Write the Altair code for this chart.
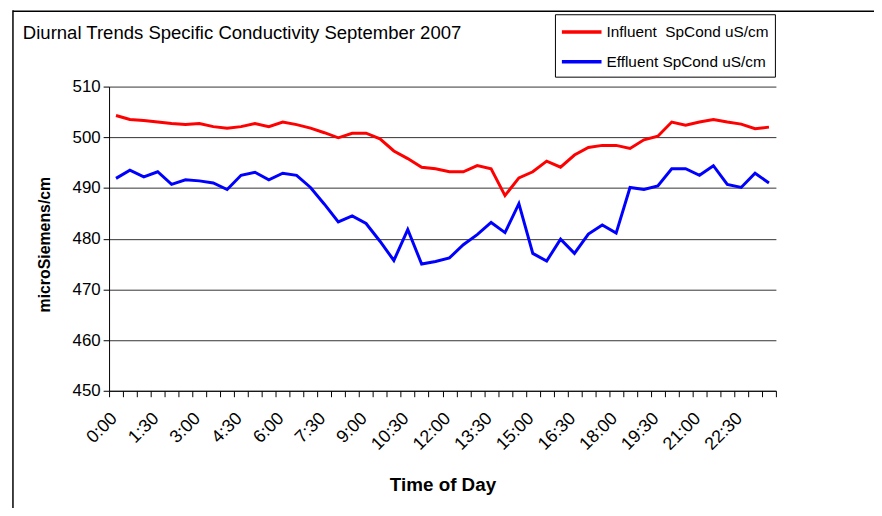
import altair as alt
import pandas as pd

times = ["0:00", "0:30", "1:00", "1:30", "2:00", "2:30", "3:00", "3:30", "4:00", "4:30",
         "5:00", "5:30", "6:00", "6:30", "7:00", "7:30", "8:00", "8:30", "9:00", "9:30",
         "10:00", "10:30", "11:00", "11:30", "12:00", "12:30", "13:00", "13:30", "14:00", "14:30",
         "15:00", "15:30", "16:00", "16:30", "17:00", "17:30", "18:00", "18:30", "19:00", "19:30",
         "20:00", "20:30", "21:00", "21:30", "22:00", "22:30", "23:00", "23:30"]

influent = [504.3, 503.5, 503.3, 503.0, 502.7, 502.5, 502.7, 502.1, 501.8, 502.1,
            502.7, 502.1, 503.0, 502.5, 501.8, 500.9, 499.9, 500.8, 500.8, 499.7,
            497.3, 495.8, 494.1, 493.8, 493.2, 493.2, 494.4, 493.8, 488.5, 492.0,
            493.2, 495.3, 494.1, 496.5, 498.0, 498.4, 498.4, 497.8, 499.5, 500.2,
            503.0, 502.4, 503.0, 503.5, 503.0, 502.6, 501.7, 502.0]

effluent = [491.9, 493.5, 492.2, 493.2, 490.7, 491.6, 491.4, 491.0, 489.7, 492.5,
            493.1, 491.6, 492.9, 492.5, 490.1, 486.8, 483.3, 484.5, 483.0, 479.5,
            475.7, 481.8, 475.0, 475.5, 476.2, 478.8, 480.8, 483.2, 481.2, 486.9,
            477.1, 475.6, 479.9, 477.1, 480.9, 482.7, 481.1, 490.1, 489.7, 490.4,
            493.8, 493.8, 492.5, 494.4, 490.7, 490.1, 492.9, 491.0]

series_names = ["Influent\u00a0 SpCond uS/cm", "Effluent SpCond uS/cm"]
series_colors = ["#ff0000", "#0000ff"]
label_times = ["0:00", "1:30", "3:00", "4:30", "6:00", "7:30", "9:00", "10:30",
               "12:00", "13:30", "15:00", "16:30", "18:00", "19:30", "21:00", "22:30"]
y_ticks = [450, 460, 470, 480, 490, 500, 510]
chart_title = "Diurnal Trends Specific Conductivity September 2007"

df = pd.DataFrame({
    "time": times + times,
    "value": influent + effluent,
    "series": [series_names[0]] * len(times) + [series_names[1]] * len(times),
})

label_expr = ("indexof([" + ",".join("'%s'" % t for t in label_times) +
              "], datum.value) >= 0 ? datum.value : ''")

FONT = "Liberation Sans"

lines = alt.Chart(df).mark_line(strokeWidth=3).encode(
    x=alt.X("time:N", sort=times, bandPosition=0.5,
            scale=alt.Scale(type="band", paddingInner=0, paddingOuter=0),
            axis=alt.Axis(title="Time of Day", labelExpr=label_expr, labelAngle=-45,
                          labelAlign="right", labelBaseline="middle", labelPadding=19,
                          labelOffset=-2,
                          tickBand="extent", tickSize=6, grid=False,
                          domainColor="black", tickColor="black", labelColor="black",
                          titleColor="black", labelFontSize=18, titleFontSize=19,
                          titleFontWeight="bold", titleY=101, titleBaseline="alphabetic",
                          labelFont=FONT, titleFont=FONT, labelOverlap=False)),
    y=alt.Y("value:Q", scale=alt.Scale(domain=[450, 510], nice=False, zero=False),
            axis=alt.Axis(values=y_ticks, title="microSiemens/cm", grid=True,
                          gridColor="#333333", tickSize=6, labelPadding=3,
                          domainColor="black", tickColor="black", labelColor="black",
                          titleColor="black", labelFontSize=17, titleFontSize=16,
                          titleFontWeight="bold", titleX=-65, titleY=159,
                          titleBaseline="middle", labelFont=FONT, titleFont=FONT)),
    color=alt.Color("series:N", scale=alt.Scale(domain=series_names, range=series_colors),
                    legend=alt.Legend(title=None, orient="none", legendX=450, legendY=-73,
                                      strokeColor="black", fillColor="white", padding=6,
                                      rowPadding=9, symbolType="M-1.1,0H2.9",
                                      symbolSize=400, symbolStrokeWidth=3.5,
                                      labelFontSize=15.5, labelOffset=22, labelFont=FONT,
                                      labelColor="black", labelLimit=300)),
)

one = pd.DataFrame({"a": [0]})
border_left = alt.Chart(one).mark_rule(color="black", strokeWidth=1.5).encode(
    x=alt.value(-97), x2=alt.value(-97), y=alt.value(-77), y2=alt.value(440))
border_top = alt.Chart(one).mark_rule(color="black", strokeWidth=1.5).encode(
    x=alt.value(-97), x2=alt.value(780), y=alt.value(-76), y2=alt.value(-76))
title_text = alt.Chart(one).mark_text(
    align="left", baseline="alphabetic", fontSize=18.7, font=FONT, color="black"
).encode(x=alt.value(-87), y=alt.value(-48), text=alt.value(chart_title))

chart = alt.layer(border_left, border_top, title_text, lines).properties(
    width=673, height=307,
    autosize=alt.AutoSizeParams(type="none"),
    padding={"left": 102, "top": 77, "right": 99, "bottom": 116},
).configure_view(stroke=None)

chart.save("out.html", embed_options={"renderer": "svg", "actions": False})
